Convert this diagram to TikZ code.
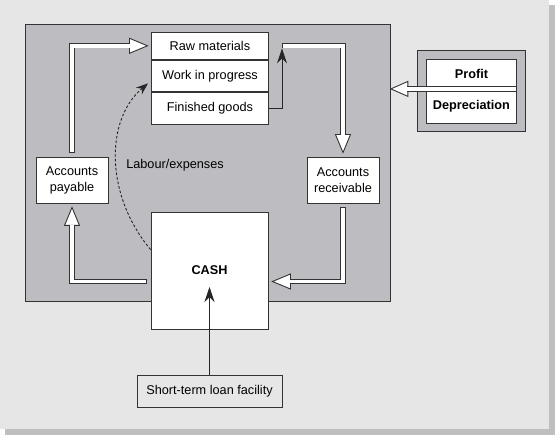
\documentclass[tikz,border=0pt]{standalone}
\usepackage{fontspec}
\setmainfont{Liberation Sans}
\usetikzlibrary{arrows.meta,calc}
\definecolor{panel}{HTML}{E6E6E6}
\definecolor{shadowc}{HTML}{BFBFBF}
\definecolor{boxgray}{HTML}{BDBDC1}
\definecolor{linec}{HTML}{333333}
\begin{document}
\begin{tikzpicture}[x=1pt,y=-1pt,
  font=\fontsize{12.7}{16}\selectfont,
  box/.style={draw=linec, line width=0.9pt, fill=white, inner sep=0pt, align=center},
  boldbox/.style={box, font=\fontsize{12.7}{16}\selectfont\bfseries},
  frame/.style={draw=linec, line width=0.9pt, fill=boxgray, inner sep=0pt},
  shaftout/.style={draw=linec, line width=5.4pt, line join=miter},
  shaftin/.style={draw=white, line width=3.6pt, line join=miter},
  headst/.style={draw=linec, line width=0.9pt, fill=white, line join=miter},
  blk/.style={draw=black!85, line width=0.9pt},
]
\useasboundingbox (0,0) rectangle (555,435);
\fill[shadowc] (5,5) rectangle (555,435);
\fill[panel] (0,0) rectangle (549,429);

% working capital frame
\node[frame, minimum width=365pt, minimum height=277pt, anchor=north west] (wc) at (25,24) {};

% inventory stack
\node[box, minimum width=117pt, minimum height=27pt, anchor=north west] (raw) at (151,32) {Raw materials};
\node[box, minimum width=117pt, minimum height=31pt, anchor=north] (wip) at (raw.south) {Work in progress};
\node[box, minimum width=117pt, minimum height=32pt, anchor=north] (fin) at (wip.south) {Finished goods};

\node[box, minimum width=72pt, minimum height=46pt] (ap) at (72,180) {Accounts\\payable};
\node[box, minimum width=72pt, minimum height=46pt] (ar) at (343,180) {Accounts\\receivable};
\node[boldbox, minimum width=117pt, minimum height=117pt] (cash) at (209.5,270.5) {CASH};
\node[box, fill=panel, minimum width=145pt, minimum height=32pt] (loan) at (209.5,391) {Short-term loan facility};

% profit / depreciation
\node[frame, minimum width=108pt, minimum height=81pt, anchor=north west] (pframe) at (417,50) {};
\node[boldbox, minimum width=90pt, minimum height=29pt, anchor=north west] (profit) at (426,59) {Profit};
\node[boldbox, minimum width=90pt, minimum height=34pt, anchor=north] (dep) at (profit.south) {Depreciation};

\node (lab) at (175,165) {Labour/expenses};

% coordinates for connectors
\coordinate (topy) at (0,45.8);
\coordinate (lowy) at (0,281.5);
\coordinate (a1s) at ($(ap.north)+(0,-4)$);
\coordinate (a1t) at ($(raw.west |- topy)+(-3.5,0)$);
\coordinate (a2c) at (282,48.4);
\coordinate (a2s) at (281.6,45.8);
\coordinate (a2t) at ($(ar.north)+(0,-4)$);
\coordinate (a3s) at ($(ar.south)+(0,4)$);
\coordinate (a3t) at ($(cash.east |- lowy)+(4,0)$);
\coordinate (a4s) at ($(cash.west |- lowy)+(-4,0)$);
\coordinate (a4t) at ($(ap.south)+(0,4)$);
\coordinate (ptip) at (wc.east |- profit.south);
\coordinate (dstart) at ($(cash.north west)+(0,38)$);
\coordinate (dend) at ($(wip.west)+(-3,7.5)$);

% A1: accounts payable -> raw materials
\draw[headst, shift={(a1t)}, rotate=0] (0,0) -- (-18,7.5) -- (-18,-7.5) -- cycle;
\draw[shaftout] (a1s) |- ($(a1t)+(-17.4,0)$);
\draw[shaftin] ($(a1s)+(0,-0.9)$) |- ($(a1t)+(-17.4,0)$);

% A2: finished goods -> accounts receivable
\draw[blk, -{Stealth[length=15pt,width=10pt]}] (fin.east) -| (a2c);
\draw[headst, shift={(a2t)}, rotate=-90] (0,0) -- (-18,7.5) -- (-18,-7.5) -- cycle;
\draw[shaftout] (a2s) -| ($(a2t)+(0,-17.4)$);
\draw[shaftin] ($(a2s)+(0.9,0)$) -| ($(a2t)+(0,-17.4)$);

% A3: accounts receivable -> cash
\draw[headst, shift={(a3t)}, rotate=180] (0,0) -- (-18,7.5) -- (-18,-7.5) -- cycle;
\draw[shaftout] (a3s) |- ($(a3t)+(17.4,0)$);
\draw[shaftin] ($(a3s)+(0,0.9)$) |- ($(a3t)+(17.4,0)$);

% A4: cash -> accounts payable
\draw[headst, shift={(a4t)}, rotate=90] (0,0) -- (-18,7.5) -- (-18,-7.5) -- cycle;
\draw[shaftout] (a4s) -| ($(a4t)+(0,17.4)$);
\draw[shaftin] ($(a4s)+(-0.9,0)$) -| ($(a4t)+(0,17.4)$);

% profit/depreciation -> working capital
\draw[headst, shift={(ptip)}, rotate=180] (0,0) -- (-17,7.5) -- (-17,-7.5) -- cycle;
\draw[shaftout] ($(profit.south east)+(-0.5,0)$) -- ($(ptip)+(16.4,0)$);
\draw[shaftin] ($(profit.south east)+(-0.5,0)$) -- ($(ptip)+(16.4,0)$);

% labour/expenses dashed
\draw[blk, dash pattern=on 2.6pt off 2pt, -{Stealth[length=12pt,width=9pt]}] (dstart) .. controls (105,195) and (105,120) .. (dend);

% loan -> cash
\draw[blk, -{Stealth[length=15pt,width=10pt]}] (loan.north) -- ($(cash.center)+(0,16.5)$);
\end{tikzpicture}
\end{document}
